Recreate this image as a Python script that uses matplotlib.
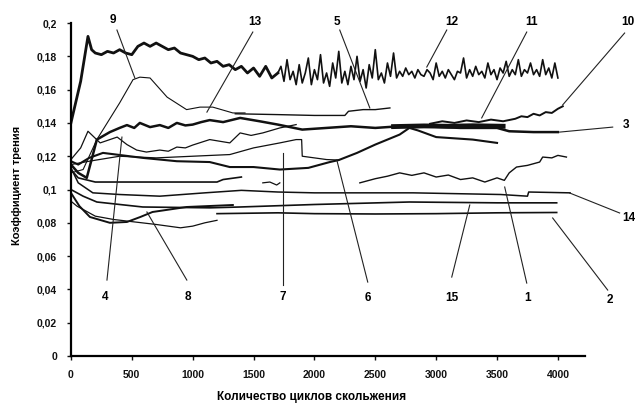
import matplotlib.pyplot as plt

plt.rcParams['font.family'] = ['Liberation Sans', 'DejaVu Sans']

# ---- data (cycles, friction coefficient) ----
# curve 12: smooth-ish start, then the noisy stretch sampled every 25 cycles
x12a = [0, 80, 140, 170, 200, 250, 300, 350, 400, 450, 500, 550, 600, 650, 700, 750, 800,
        850, 900, 950, 1000, 1050, 1100, 1150, 1200, 1250, 1300, 1350, 1400, 1450, 1500,
        1550, 1600, 1650, 1700]
y12a = [0.140, 0.165, 0.192, 0.184, 0.182, 0.181, 0.183, 0.182, 0.184, 0.182, 0.181, 0.186,
        0.188, 0.186, 0.188, 0.186, 0.184, 0.185, 0.182, 0.181, 0.180, 0.178, 0.179, 0.176,
        0.177, 0.174, 0.175, 0.172, 0.174, 0.170, 0.173, 0.168, 0.174, 0.167, 0.170]
x12b = list(range(1700, 4001, 25))
y12b = [0.170, 0.174, 0.165, 0.178, 0.166, 0.171, 0.163, 0.175, 0.164, 0.170, 0.179, 0.163,
        0.172, 0.166, 0.181, 0.164, 0.170, 0.162, 0.176, 0.167, 0.183, 0.164, 0.171, 0.163,
        0.174, 0.166, 0.180, 0.165, 0.172, 0.161, 0.175, 0.167, 0.184, 0.166, 0.170, 0.164,
        0.176, 0.168, 0.182, 0.167, 0.171, 0.168, 0.173, 0.169, 0.171, 0.167, 0.172, 0.169,
        0.168, 0.172, 0.170, 0.166, 0.176, 0.168, 0.171, 0.167, 0.172, 0.169, 0.166, 0.171,
        0.170, 0.179, 0.167, 0.172, 0.168, 0.174, 0.169, 0.171, 0.167, 0.176, 0.169, 0.172,
        0.166, 0.173, 0.170, 0.177, 0.168, 0.172, 0.169, 0.178, 0.168, 0.172, 0.170, 0.176,
        0.169, 0.172, 0.168, 0.178, 0.169, 0.173, 0.167, 0.176, 0.167]

x9 = [0, 100, 213, 400, 510, 566, 650, 790, 950, 1060, 1165, 1330, 1430]
y9 = [0.110, 0.112, 0.130, 0.152, 0.166, 0.1675, 0.167, 0.1555, 0.148, 0.1495, 0.1495, 0.146, 0.146]

x5 = [1350, 1700, 2000, 2250, 2280, 2400, 2500, 2620]
y5 = [0.1455, 0.145, 0.1445, 0.1445, 0.147, 0.148, 0.148, 0.149]

x3 = [0, 60, 130, 213, 320, 400, 460, 520, 566, 650, 730, 800, 870, 940, 1000, 1070, 1140,
      1250, 1390, 1550, 1700, 1900, 2100, 2300, 2500, 2700, 2900, 3200, 3500, 3600, 3800, 4000]
y3 = [0.115, 0.110, 0.107, 0.130, 0.1345, 0.137, 0.1387, 0.137, 0.140, 0.1375, 0.1387, 0.137,
      0.140, 0.1385, 0.139, 0.1405, 0.1417, 0.1405, 0.143, 0.141, 0.139, 0.136, 0.137, 0.138,
      0.137, 0.138, 0.138, 0.137, 0.137, 0.135, 0.1345, 0.1345]

x11 = [2650, 2900, 3100, 3300, 3550]
y11 = [0.1378, 0.1382, 0.1380, 0.1383, 0.1380]

x10 = [2950, 3050, 3150, 3250, 3350, 3450, 3550, 3650, 3700, 3750, 3800, 3850, 3900, 3950, 4000, 4040]
y10 = [0.1395, 0.1410, 0.1400, 0.1415, 0.1405, 0.1420, 0.1410, 0.1425, 0.1440, 0.1435, 0.1455,
       0.1445, 0.1465, 0.1460, 0.1485, 0.1500]

x13 = [0, 80, 140, 240, 380, 460, 540, 620, 730, 800, 870, 940, 1000, 1140, 1305, 1390, 1480,
       1576, 1716, 1850]
y13 = [0.118, 0.125, 0.135, 0.128, 0.1315, 0.127, 0.1237, 0.1225, 0.1237, 0.1230, 0.1255,
       0.1250, 0.1267, 0.130, 0.128, 0.134, 0.1325, 0.134, 0.137, 0.139]

x6 = [0, 60, 150, 263, 590, 870, 1140, 1305, 1500, 1716, 1950, 2126, 2200, 2350, 2500, 2700,
      2780, 2850, 3000, 3300, 3500]
y6 = [0.117, 0.115, 0.119, 0.122, 0.119, 0.117, 0.1165, 0.1135, 0.1135, 0.112, 0.113, 0.1165,
      0.1177, 0.122, 0.127, 0.133, 0.137, 0.1355, 0.1315, 0.130, 0.128]

x7 = [0, 150, 400, 700, 1000, 1305, 1500, 1716, 1850, 1895, 1900, 2000, 2100, 2200]
y7 = [0.115, 0.117, 0.120, 0.119, 0.120, 0.121, 0.125, 0.128, 0.130, 0.130, 0.120, 0.119,
      0.118, 0.1177]

x1 = [2373, 2500, 2600, 2700, 2800, 2900, 3000, 3100, 3200, 3300, 3400, 3500, 3560, 3600,
      3660, 3750, 3850, 3875, 3950, 4000, 4070]
y1 = [0.104, 0.1065, 0.108, 0.110, 0.1085, 0.110, 0.1075, 0.1087, 0.106, 0.107, 0.1045,
      0.107, 0.1055, 0.110, 0.1135, 0.1145, 0.1165, 0.1195, 0.119, 0.1205, 0.1195]

xa = [0, 60, 200, 1200, 1250, 1400]
ya = [0.112, 0.107, 0.1045, 0.1045, 0.106, 0.1075]

xw = [1576, 1634, 1690, 1716]
yw = [0.104, 0.1045, 0.1027, 0.104]

x14 = [0, 60, 180, 400, 730, 1100, 1400, 1700, 2000, 2810, 3530, 3750, 3760, 4100]
y14 = [0.113, 0.104, 0.098, 0.097, 0.096, 0.098, 0.0995, 0.0985, 0.098, 0.098, 0.097, 0.096,
       0.0985, 0.098]

x15 = [0, 100, 213, 590, 1140, 1390, 2000, 2780, 3500, 3990]
y15 = [0.100, 0.096, 0.0925, 0.0895, 0.089, 0.0895, 0.091, 0.0925, 0.092, 0.092]

x8 = [0, 70, 156, 320, 460, 570, 670, 950, 1330]
y8 = [0.098, 0.090, 0.0835, 0.080, 0.0805, 0.0835, 0.0865, 0.0895, 0.0907]

xe = [0, 50, 200, 350, 700, 900, 1000, 1100, 1200]
ye = [0.093, 0.090, 0.084, 0.082, 0.079, 0.077, 0.078, 0.080, 0.0815]

x2 = [1200, 1700, 2000, 2500, 3000, 3500, 3990]
y2 = [0.0855, 0.086, 0.0855, 0.0853, 0.0855, 0.086, 0.0862]

series = [
    (x12a, y12a, 2.0), (x12b, y12b, 1.2), (x9, y9, 0.8), (x5, y5, 1.0), (x3, y3, 1.8),
    (x11, y11, 3.5), (x10, y10, 1.4), (x13, y13, 0.9), (x6, y6, 1.5), (x7, y7, 0.9),
    (x1, y1, 1.0), (xa, ya, 1.2), (xw, yw, 0.9), (x14, y14, 1.1), (x15, y15, 1.2),
    (x8, y8, 1.4), (xe, ye, 0.9), (x2, y2, 1.2),
]

# curve number -> (label position, leader start, leader end)
labels = [
    ('9', (345, 0.2018), (378, 0.1958), (525, 0.167)),
    ('13', (1511, 0.2006), (1494, 0.1946), (1117, 0.1465)),
    ('5', (2184, 0.2006), (2208, 0.1958), (2455, 0.149)),
    ('12', (3128, 0.2006), (3087, 0.1958), (2923, 0.1736)),
    ('11', (3785, 0.2006), (3744, 0.1946), (3374, 0.143)),
    ('10', (4573, 0.2006), (4548, 0.194), (4039, 0.1508)),
    ('3', (4560, 0.1387), (4450, 0.1375), (4015, 0.1345)),
    ('14', (4580, 0.0829), (4507, 0.0859), (4097, 0.0979)),
    ('2', (4425, 0.0336), (4409, 0.0396), (3957, 0.0829)),
    ('1', (3752, 0.0348), (3744, 0.0438), (3563, 0.1015)),
    ('15', (3128, 0.0348), (3128, 0.0474), (3276, 0.0907)),
    ('6', (2438, 0.0348), (2438, 0.0444), (2184, 0.1177)),
    ('7', (1740, 0.0354), (1740, 0.0426), (1740, 0.1219)),
    ('8', (960, 0.0354), (952, 0.0456), (624, 0.0865)),
    ('4', (280, 0.0354), (296, 0.0456), (419, 0.1315)),
]

fig = plt.figure(figsize=(6.39, 4.08), dpi=100)
ax = fig.add_axes([0.111, 0.1275, 0.804, 0.816])

for xs, ys, lw in series:
    ax.plot(xs, ys, color='#111111', lw=lw, solid_joinstyle='round')

for txt, pos, start, end in labels:
    ax.plot([start[0], end[0]], [start[1], end[1]], color='#222222', lw=0.8, clip_on=False)
    ax.text(pos[0], pos[1], txt, ha='center', va='center', fontsize=8.5,
            fontweight='bold', clip_on=False)

ax.set_xlim(0, 4220)
ax.set_ylim(0, 0.2)
ax.set_xticks(range(0, 4001, 500))
yt = [0, 0.02, 0.04, 0.06, 0.08, 0.1, 0.12, 0.14, 0.16, 0.18, 0.2]
ax.set_yticks(yt)
ax.set_yticklabels(['0' if v == 0 else f'{v:g}'.replace('.', ',') for v in yt])
ax.tick_params(labelsize=7.5, length=3, width=1, colors='#111111', pad=7)
for lab in ax.get_xticklabels() + ax.get_yticklabels():
    lab.set_fontweight('bold')

for s in ['top', 'right']:
    ax.spines[s].set_visible(False)
for s in ['left', 'bottom']:
    ax.spines[s].set_linewidth(1.6)

fig.text(0.488, 0.027, 'Количество циклов скольжения', ha='center', va='center',
         fontsize=8.5, fontweight='bold')
fig.text(0.027, 0.545, 'Коэффициент трения', ha='center', va='center', rotation=90,
         fontsize=8, fontweight='bold')

fig.savefig('out.png', dpi=100)
